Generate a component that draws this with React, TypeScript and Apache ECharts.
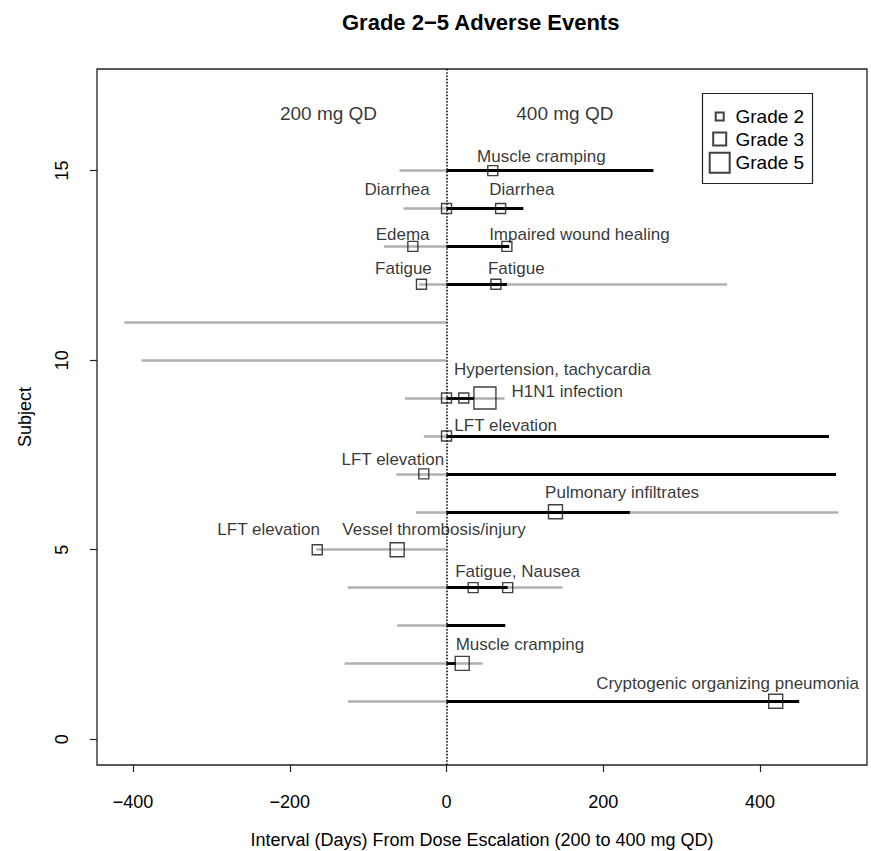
import React, { useEffect, useRef } from "react";
import * as echarts from "echarts";

// ---- data ----
const rows = [15, 14, 13, 12, 11, 10, 9, 8, 7, 6, 5, 4, 3, 2, 1];
const grayStart = [-60, -55, -80, -35, -411, -389, -53, -29, -64, -39, -166, -126, -63, -130, -126];
const grayEnd = [0, 0, 0, 358, 0, 0, 74, 0, 0, 500, 0, 148, 0, 46, 0];
const blackEnd = [264, 98, 80, 77, null, null, 35, 488, 497, 234, null, 78, 75, 12, 450];

const grade2X = [59, 0, 69, -43, 77, -32, 63, 0, 22, 0, -29, -165, 34, 78];
const grade2Y = [15, 14, 14, 13, 13, 12, 12, 9, 9, 8, 7, 5, 4, 4];
const grade3X = [139, -63, 20, 420];
const grade3Y = [6, 5, 2, 1];
const grade5X = [49];
const grade5Y = [9];

const eventTexts = [
  "Muscle cramping", "Diarrhea", "Diarrhea", "Edema", "Impaired wound healing",
  "Fatigue", "Fatigue", "Hypertension, tachycardia", "H1N1 infection", "LFT elevation",
  "LFT elevation", "Pulmonary infiltrates", "LFT elevation", "Vessel thrombosis/injury",
  "Fatigue, Nausea", "Muscle cramping", "Cryptogenic organizing pneumonia",
];
const eventX = [121, -63, 96, -56, 169.5, -55, 89, 135, 154, 75.5, -68.5, 224, -227, -16, 90.6, 93.6, 358.5];
const eventY = [15.37, 14.5, 14.5, 13.32, 13.32, 12.43, 12.43, 9.76, 9.17, 8.27, 7.38, 6.5, 5.52, 5.52, 4.42, 2.51, 1.46];

const doseTexts = ["200 mg QD", "400 mg QD"];
const doseX = [-150.6, 151];
const doseY = [16.5, 16.5];

const xTicks = [-400, -200, 0, 200, 400];
const yTicks = [0, 5, 10, 15];
const xMin = -446;
const xMax = 536.5;
const yMin = -0.68;
const yMax = 17.68;

const FONT = "'Liberation Sans', Arial, Helvetica, sans-serif";
const TXT = "#000";
const GRAY = "#b0b0b0";

export default function App() {
  const ref = useRef<HTMLDivElement>(null);

  useEffect(() => {
    if (!ref.current) return;
    const chart = echarts.init(ref.current, null, { renderer: "svg" });

    const grayData = rows.map((r, i) => ({ coords: [[grayStart[i], r], [grayEnd[i], r]] }));
    const blackData = rows
      .map((r, i) => (blackEnd[i] == null ? null : { coords: [[0, r], [blackEnd[i], r]] }))
      .filter((d) => d !== null);

    const sq = (color: string) => ({ color: "rgba(0,0,0,0)", borderColor: color, borderWidth: 1.4 });

    const legendBase = (pad: number) => ({
      orient: "vertical",
      padding: 0,
      itemGap: 0,
      textStyle: { fontSize: 19, color: TXT, fontFamily: FONT, padding: [0, 0, 0, pad] },
      selectedMode: false,
    });

    const option: any = {
      animation: false,
      backgroundColor: "#ffffff",
      title: {
        text: "Grade 2\u22125 Adverse Events",
        left: 342,
        top: 11,
        padding: 0,
        textStyle: { fontSize: 22, fontWeight: "bold", color: "#000", fontFamily: FONT },
      },
      legend: [
        { ...legendBase(6.8), data: ["Grade 2"], left: 714.7, top: 107, itemWidth: 8, itemHeight: 8 },
        { ...legendBase(4.3), data: ["Grade 3"], left: 712.2, top: 129.5, itemWidth: 13, itemHeight: 13 },
        { ...legendBase(0.8), data: ["Grade 5"], left: 708.7, top: 151.7, itemWidth: 20, itemHeight: 20 },
      ],
      graphic: [
        {
          type: "rect",
          shape: { x: 702.5, y: 93.5, width: 110, height: 90 },
          style: { fill: "none", stroke: "#222", lineWidth: 1.2 },
          z: 100,
        },
      ],
      grid: {
        left: 97,
        right: 4,
        top: 69,
        bottom: 86,
        show: true,
        containLabel: false,
        outerBoundsMode: "none",
        borderColor: "#222",
        borderWidth: 1.3,
        backgroundColor: "transparent",
      },
      xAxis: {
        type: "value",
        min: xMin,
        max: xMax,
        splitLine: { show: false },
        axisLine: { show: false, onZero: false },
        axisTick: { show: true, customValues: xTicks, length: 7, lineStyle: { color: "#222", width: 1.2 } },
        axisLabel: {
          customValues: xTicks,
          margin: 28,
          fontSize: 18,
          color: TXT,
          fontFamily: FONT,
          formatter: (v: number) => String(v).replace("-", "\u2212"),
        },
        name: "Interval (Days) From Dose Escalation (200 to 400 mg QD)",
        nameLocation: "middle",
        nameGap: 66,
        nameTextStyle: { fontSize: 18, color: TXT, fontFamily: FONT },
      },
      yAxis: {
        type: "value",
        min: yMin,
        max: yMax,
        splitLine: { show: false },
        axisLine: { show: false, onZero: false },
        axisTick: { show: true, customValues: yTicks, length: 7, lineStyle: { color: "#222", width: 1.2 } },
        axisLabel: {
          customValues: yTicks,
          rotate: 90,
          margin: 26,
          fontSize: 18,
          color: TXT,
          fontFamily: FONT,
        },
        name: "Subject",
        nameLocation: "middle",
        nameRotate: 90,
        nameGap: 63,
        nameTextStyle: { fontSize: 18, color: TXT, fontFamily: FONT },
      },
      series: [
        {
          name: "before",
          type: "lines",
          coordinateSystem: "cartesian2d",
          polyline: false,
          silent: true,
          lineStyle: { color: GRAY, width: 2.6, opacity: 1 },
          data: grayData,
          z: 1,
        },
        {
          name: "after",
          type: "lines",
          coordinateSystem: "cartesian2d",
          polyline: false,
          silent: true,
          lineStyle: { color: "#000", width: 2.8, opacity: 1 },
          data: blackData,
          z: 2,
        },
        {
          name: "Grade 2",
          type: "scatter",
          symbol: "rect",
          symbolSize: 10,
          itemStyle: sq("#111"),
          data: grade2X.map((x, i) => [x, grade2Y[i]]),
          z: 4,
          markLine: {
            silent: true,
            symbol: ["none", "none"],
            label: { show: false },
            lineStyle: { type: "dotted", color: "#111", width: 1.6 },
            data: [{ xAxis: 0 }],
          },
        },
        {
          name: "Grade 3",
          type: "scatter",
          symbol: "rect",
          symbolSize: 14,
          itemStyle: sq("#111"),
          data: grade3X.map((x, i) => [x, grade3Y[i]]),
          z: 4,
        },
        {
          name: "Grade 5",
          type: "scatter",
          symbol: "rect",
          symbolSize: 22,
          itemStyle: sq("#111"),
          data: grade5X.map((x, i) => [x, grade5Y[i]]),
          z: 4,
        },
        {
          name: "event labels",
          type: "scatter",
          symbolSize: 0,
          silent: true,
          z: 5,
          label: {
            show: true,
            position: "inside",
            formatter: (p: any) => p.name,
            color: TXT,
            fontSize: 17,
            fontFamily: FONT,
          },
          data: eventTexts.map((t, i) => ({ name: t, value: [eventX[i], eventY[i]] })),
        },
        {
          name: "dose labels",
          type: "scatter",
          symbolSize: 0,
          silent: true,
          z: 5,
          label: {
            show: true,
            position: "inside",
            formatter: (p: any) => p.name,
            color: TXT,
            fontSize: 19,
            fontFamily: FONT,
          },
          data: doseTexts.map((t, i) => ({ name: t, value: [doseX[i], doseY[i]] })),
        },
      ],
    };

    chart.setOption(option);
    return () => chart.dispose();
  }, []);

  return (
    <div
      ref={ref}
      style={{ position: "absolute", left: 0, top: 0, width: 871, height: 851, background: "#fff" }}
    />
  );
}
